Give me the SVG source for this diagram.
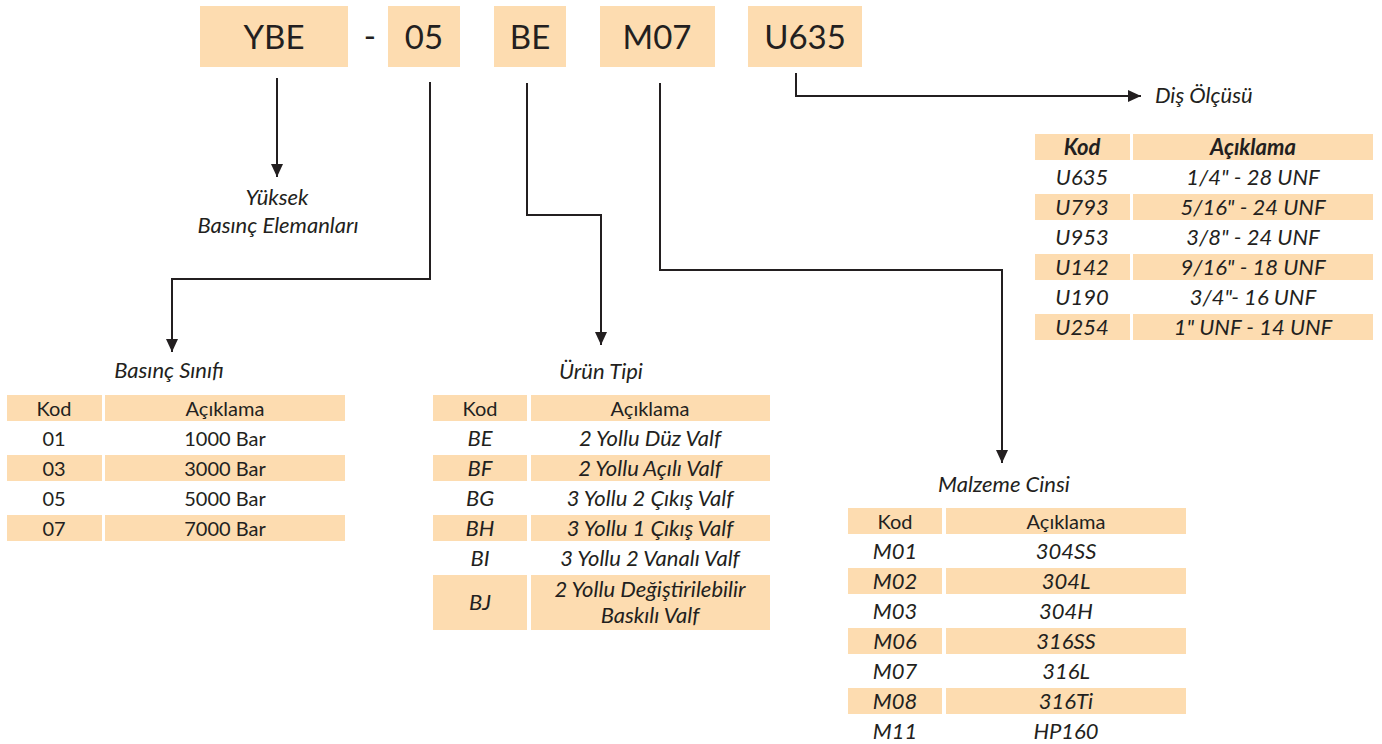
<svg xmlns="http://www.w3.org/2000/svg" width="1382" height="744" viewBox="0 0 1382 744">
<style>
text{font-family:Lato,"Open Sans","Liberation Sans",sans-serif;fill:#231F20;text-anchor:middle}
.top{font-size:33px}
.t{font-size:20px}
.i{font-style:italic;font-size:22px}
.b{font-weight:bold}
.lbl{font-size:22px;font-style:italic}
.fill{fill:#FDDCB0}
.con{fill:none;stroke:#231F20;stroke-width:2}
</style>
<defs>
<marker id="ah" markerUnits="userSpaceOnUse" markerWidth="14" markerHeight="12" refX="13" refY="6" orient="auto">
<path d="M0,0 L13,6 L0,12 Z" fill="#231F20"/>
</marker>
</defs>
<rect width="1382" height="744" fill="#ffffff"/>
<g id="code">
<g id="n-ybe"><rect class="fill" x="200" y="6" width="148" height="61"/><text class="top" x="274" y="49">YBE</text></g>
<g id="n-dash"><text class="top" x="370" y="48">-</text></g>
<g id="n-05"><rect class="fill" x="388" y="6" width="72" height="61"/><text class="top" x="424" y="49">05</text></g>
<g id="n-be"><rect class="fill" x="494" y="6" width="72" height="61"/><text class="top" x="530" y="49">BE</text></g>
<g id="n-m07"><rect class="fill" x="600" y="6" width="115" height="61"/><text class="top" x="657" y="49">M07</text></g>
<g id="n-u635"><rect class="fill" x="748" y="6" width="114" height="61"/><text class="top" x="805" y="49">U635</text></g>
</g>
<g id="connectors">
<path class="con" d="M277,78 V177" marker-end="url(#ah)"/>
<path class="con" d="M430,82 V279 H172 V352" marker-end="url(#ah)"/>
<path class="con" d="M527,83 V215 H601 V345" marker-end="url(#ah)"/>
<path class="con" d="M660,83 V270 H1002 V463" marker-end="url(#ah)"/>
<path class="con" d="M796,73 V96 H1141" marker-end="url(#ah)"/>
</g>
<g id="n-yuksek">
<text class="lbl" x="277" y="205">Yüksek</text>
<text class="lbl" x="278" y="233">Basınç Elemanları</text>
</g>
<g id="n-dis">
<text class="lbl" x="1155" y="103" style="text-anchor:start">Diş Ölçüsü</text>
<rect class="fill" x="1035" y="134" width="95" height="26"/><rect class="fill" x="1133" y="134" width="240" height="26"/>
<text class="t i b" x="1082" y="155">Kod</text><text class="t i b" x="1253" y="155">Açıklama</text>
<rect class="fill" x="1035" y="194" width="95" height="26"/><rect class="fill" x="1133" y="194" width="240" height="26"/>
<rect class="fill" x="1035" y="254" width="95" height="26"/><rect class="fill" x="1133" y="254" width="240" height="26"/>
<rect class="fill" x="1035" y="314" width="95" height="26"/><rect class="fill" x="1133" y="314" width="240" height="26"/>
<text class="t i" x="1082" y="185">U635</text><text class="t i" x="1253" y="185">1/4" - 28 UNF</text>
<text class="t i" x="1082" y="215">U793</text><text class="t i" x="1253" y="215">5/16" - 24 UNF</text>
<text class="t i" x="1082" y="245">U953</text><text class="t i" x="1253" y="245">3/8" - 24 UNF</text>
<text class="t i" x="1082" y="275">U142</text><text class="t i" x="1253" y="275">9/16" - 18 UNF</text>
<text class="t i" x="1082" y="305">U190</text><text class="t i" x="1253" y="305">3/4"- 16 UNF</text>
<text class="t i" x="1082" y="335">U254</text><text class="t i" x="1253" y="335">1" UNF - 14 UNF</text>
</g>
<g id="n-basinc">
<text class="lbl" x="169" y="378">Basınç Sınıfı</text>
<rect class="fill" x="7" y="395" width="95" height="26"/><rect class="fill" x="105" y="395" width="240" height="26"/>
<text class="t" x="54" y="416">Kod</text><text class="t" x="225" y="416">Açıklama</text>
<rect class="fill" x="7" y="455" width="95" height="26"/><rect class="fill" x="105" y="455" width="240" height="26"/>
<rect class="fill" x="7" y="515" width="95" height="26"/><rect class="fill" x="105" y="515" width="240" height="26"/>
<text class="t" x="54" y="446">01</text><text class="t" x="225" y="446">1000 Bar</text>
<text class="t" x="54" y="476">03</text><text class="t" x="225" y="476">3000 Bar</text>
<text class="t" x="54" y="506">05</text><text class="t" x="225" y="506">5000 Bar</text>
<text class="t" x="54" y="536">07</text><text class="t" x="225" y="536">7000 Bar</text>
</g>
<g id="n-urun">
<text class="lbl" x="601" y="379">Ürün Tipi</text>
<rect class="fill" x="433" y="395" width="94" height="26"/><rect class="fill" x="531" y="395" width="239" height="26"/>
<text class="t" x="480" y="416">Kod</text><text class="t" x="650" y="416">Açıklama</text>
<rect class="fill" x="433" y="455" width="94" height="26"/><rect class="fill" x="531" y="455" width="239" height="26"/>
<rect class="fill" x="433" y="515" width="94" height="26"/><rect class="fill" x="531" y="515" width="239" height="26"/>
<rect class="fill" x="433" y="575" width="94" height="55"/><rect class="fill" x="531" y="575" width="239" height="55"/>
<text class="t i" x="480" y="446">BE</text><text class="t i" x="650" y="446">2 Yollu Düz Valf</text>
<text class="t i" x="480" y="476">BF</text><text class="t i" x="650" y="476">2 Yollu Açılı Valf</text>
<text class="t i" x="480" y="506">BG</text><text class="t i" x="650" y="506">3 Yollu 2 Çıkış Valf</text>
<text class="t i" x="480" y="536">BH</text><text class="t i" x="650" y="536">3 Yollu 1 Çıkış Valf</text>
<text class="t i" x="480" y="566">BI</text><text class="t i" x="650" y="566">3 Yollu 2 Vanalı Valf</text>
<text class="t i" x="480" y="610">BJ</text><text class="t i" x="650" y="597">2 Yollu Değiştirilebilir</text><text class="t i" x="650" y="623">Baskılı Valf</text>
</g>
<g id="n-malzeme">
<text class="lbl" x="1004" y="492">Malzeme Cinsi</text>
<rect class="fill" x="848" y="508" width="94" height="26"/><rect class="fill" x="946" y="508" width="240" height="26"/>
<text class="t" x="895" y="529">Kod</text><text class="t" x="1066" y="529">Açıklama</text>
<rect class="fill" x="848" y="568" width="94" height="26"/><rect class="fill" x="946" y="568" width="240" height="26"/>
<rect class="fill" x="848" y="628" width="94" height="26"/><rect class="fill" x="946" y="628" width="240" height="26"/>
<rect class="fill" x="848" y="688" width="94" height="26"/><rect class="fill" x="946" y="688" width="240" height="26"/>
<text class="t i" x="895" y="559">M01</text><text class="t i" x="1066" y="559">304SS</text>
<text class="t i" x="895" y="589">M02</text><text class="t i" x="1066" y="589">304L</text>
<text class="t i" x="895" y="619">M03</text><text class="t i" x="1066" y="619">304H</text>
<text class="t i" x="895" y="649">M06</text><text class="t i" x="1066" y="649">316SS</text>
<text class="t i" x="895" y="679">M07</text><text class="t i" x="1066" y="679">316L</text>
<text class="t i" x="895" y="709">M08</text><text class="t i" x="1066" y="709">316Ti</text>
<text class="t i" x="895" y="739">M11</text><text class="t i" x="1066" y="739">HP160</text>
</g>
</svg>
